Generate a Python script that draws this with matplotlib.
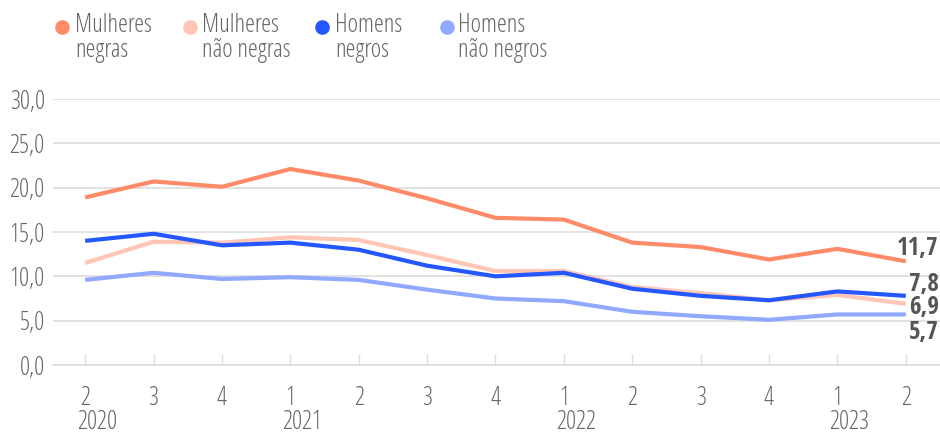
import matplotlib.pyplot as plt
from matplotlib.transforms import blended_transform_factory

plt.rcParams['font.family'] = ['Open Sans', 'DejaVu Sans']
plt.rcParams['font.stretch'] = 'condensed'
plt.rcParams['font.weight'] = 300

trimestres = ['2', '3', '4', '1', '2', '3', '4', '1', '2', '3', '4', '1', '2']
anos = ['2020', '2021', '2022', '2023']
pos_anos = [0, 3, 7, 11]

mulheres_negras = [18.9, 20.7, 20.1, 22.1, 20.8, 18.8, 16.6, 16.4, 13.8, 13.3, 11.9, 13.1, 11.7]
mulheres_nao_negras = [11.5, 13.9, 13.8, 14.4, 14.1, 12.4, 10.6, 10.6, 8.8, 8.1, 7.3, 7.9, 6.9]
homens_negros = [14.0, 14.8, 13.5, 13.8, 13.0, 11.2, 10.0, 10.4, 8.6, 7.8, 7.3, 8.3, 7.8]
homens_nao_negros = [9.6, 10.4, 9.7, 9.9, 9.6, 8.5, 7.5, 7.2, 6.0, 5.5, 5.1, 5.7, 5.7]

series = [
    ('Mulheres\nnegras', mulheres_negras, '#ff8a68', 13),
    ('Mulheres\nnão negras', mulheres_nao_negras, '#ffc5b5', -4),
    ('Homens\nnegros', homens_negros, '#2457ff', 11),
    ('Homens\nnão negros', homens_nao_negros, '#8fa9ff', -18),
]
# ordem de desenho: mais claras por baixo
ordem = [3, 1, 2, 0]
rotulos_fim = ['11,7', '6,9', '7,8', '5,7']

fig = plt.figure(figsize=(9.4, 4.32), dpi=100)
ax = fig.add_axes([53 / 940, 1 - 365 / 432, 1 - 53 / 940, 266 / 432])

x = list(range(len(trimestres)))
for i in ordem:
    nome, vals, cor, off = series[i]
    ax.plot(x, vals, color=cor, lw=3, solid_capstyle='butt', zorder=3 + i)

for i, (nome, vals, cor, off) in enumerate(series):
    ax.annotate(rotulos_fim[i], (x[-1], vals[-1]), xytext=(33, off), textcoords='offset pixels',
                ha='right', va='center', fontsize=18, family='Open Sans Condensed',
                fontweight='bold', color='#555555')

ax.set_xlim(-0.47, 12.5)
ax.set_ylim(0, 30)
ax.set_yticks([0, 5, 10, 15, 20, 25, 30])
ax.set_yticklabels([f'{v:.1f}'.replace('.', ',') for v in [0, 5, 10, 15, 20, 25, 30]])
ax.grid(axis='y', color='#dddddd', lw=1.2)
ax.set_axisbelow(True)
for s in ['top', 'right', 'left']:
    ax.spines[s].set_visible(False)
ax.spines['bottom'].set_color('#dddddd')
ax.spines['bottom'].set_linewidth(1.2)
ax.tick_params(axis='y', length=0, labelsize=18, labelcolor='#666666', pad=6)
ax.set_xticks(x)
ax.set_xticklabels(trimestres)
ax.tick_params(axis='x', direction='in', length=8, color='#dddddd', width=1,
               labelsize=18, labelcolor='#666666', pad=15)

tr = blended_transform_factory(ax.transData, ax.transAxes)
for p, a in zip(pos_anos, anos):
    ax.text(p - 0.12, -0.215, a, transform=tr, ha='left', va='center', fontsize=18, color='#666666')

# legenda
dots_x = [62, 190, 322, 447]
texto_x = [75, 202, 335, 458]
for i, (nome, vals, cor, off) in enumerate(series):
    fig.lines.append(plt.Line2D([dots_x[i] / 940], [1 - 27 / 432], marker='o', ms=9.5, color=cor,
                                transform=fig.transFigure))
    fig.text(texto_x[i] / 940, 1 - 13 / 432, nome, ha='left', va='top', fontsize=18,
             color='#666666', linespacing=1.0)

fig.savefig('out.png', dpi=100)
